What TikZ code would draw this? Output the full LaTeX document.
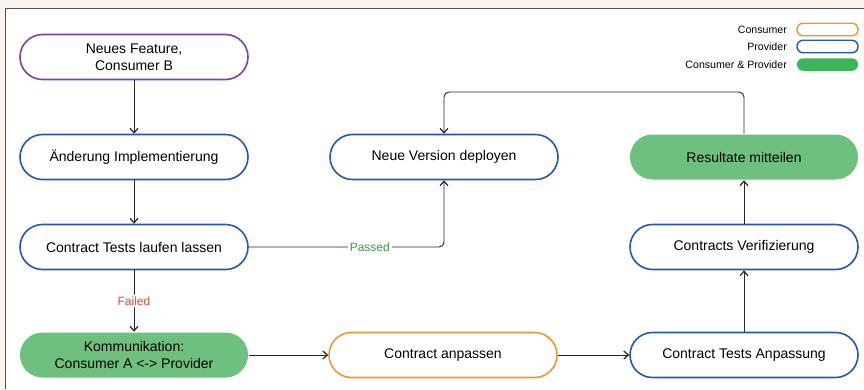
\documentclass[tikz,border=0pt]{standalone}
\usepackage{fontspec}
\setmainfont{Liberation Sans}
\usetikzlibrary{arrows.meta,positioning}
\definecolor{bgbeige}{HTML}{FBF3EC}
\definecolor{framec}{HTML}{505050}
\definecolor{purp}{HTML}{7E3FA6}
\definecolor{provb}{HTML}{2458B0}
\definecolor{consor}{HTML}{F39433}
\definecolor{greenfill}{HTML}{6EC07F}
\definecolor{legendgreen}{HTML}{3DB55A}
\definecolor{passedc}{HTML}{3A9A4A}
\definecolor{failedc}{HTML}{F0453A}
\tikzset{
  flowbox/.style={rounded corners=22.5pt, minimum width=228pt, minimum height=45pt, line width=1.6pt, fill=white, align=center, font=\fontsize{14}{16.5}\selectfont, inner sep=0pt},
  provbox/.style={flowbox, draw=provb},
  consbox/.style={flowbox, draw=consor},
  startbox/.style={flowbox, draw=purp},
  bothbox/.style={flowbox, draw=none, fill=greenfill},
  conn/.style={line width=0.95pt, draw=black!85, -{Straight Barb[length=4.5pt,width=8pt,line width=1.2pt]}, rounded corners=5pt},
  edgelabel/.style={font=\fontsize{12}{14}\selectfont, fill=white, inner sep=2pt},
  legtext/.style={font=\fontsize{10.6}{12}\selectfont, anchor=east, inner sep=0pt},
  legbox/.style={rounded corners=6pt, minimum width=61pt, minimum height=12.5pt, inner sep=0pt, line width=1.4pt}
}
\begin{document}
\begin{tikzpicture}[x=1pt,y=-1pt]
\useasboundingbox (0,0) rectangle (864,389);
\fill[bgbeige] (0,0) rectangle (864,389);
\fill[white] (5,8) rectangle (864,389);
\draw[framec, line width=1pt] (5,389) -- (5,8) -- (864,8);

\node[startbox] (feat) at (134,57) {Neues Feature,\\Consumer B};
\node[provbox] (impl) at (134,157) {Änderung Implementierung};
\node[provbox] (tests) at (134,247) {Contract Tests laufen lassen};
\node[bothbox] (komm) at (134,355) {Kommunikation:\\Consumer A <-> Provider};
\node[consbox] (anp) at (443,355) {Contract anpassen};
\node[provbox] (ctanp) at (744,355) {Contract Tests Anpassung};
\node[provbox] (verif) at (744,247) {Contracts Verifizierung};
\node[bothbox] (res) at (744,157) {Resultate mitteilen};
\node[provbox] (deploy) at (444,157) {Neue Version deployen};

\draw[conn] (feat) -- (impl);
\draw[conn] (impl) -- (tests);
\draw[conn] (tests) -- node[edgelabel, text=failedc] {Failed} (komm);
\draw[conn] (komm) -- (anp);
\draw[conn] (anp) -- (ctanp);
\draw[conn] (ctanp) -- (verif);
\draw[conn] (verif) -- (res);
\coordinate (topR) at (744,92);
\coordinate (topL) at (444,92);
\draw[conn] (res.north) -- (topR) -- (topL) -- (deploy.north);
\coordinate (passcorner) at (444,247);
\draw[conn] (tests.east) -- node[edgelabel, text=passedc, pos=0.62] {Passed} (passcorner) -- (deploy.south);

% legend
\node[legbox, draw=consor, fill=white] (lc) at (827.5,29.5) {};
\node[legbox, draw=provb, fill=white] (lp) at (827.5,46.5) {};
\node[legbox, fill=legendgreen] (lb) at (827.5,64.5) {};
\node[legtext] (lct) at (787,29.5) {Consumer};
\node[legtext] (lpt) at (787,46.5) {Provider};
\node[legtext] (lbt) at (787,64.5) {Consumer \& Provider};
\end{tikzpicture}
\end{document}
